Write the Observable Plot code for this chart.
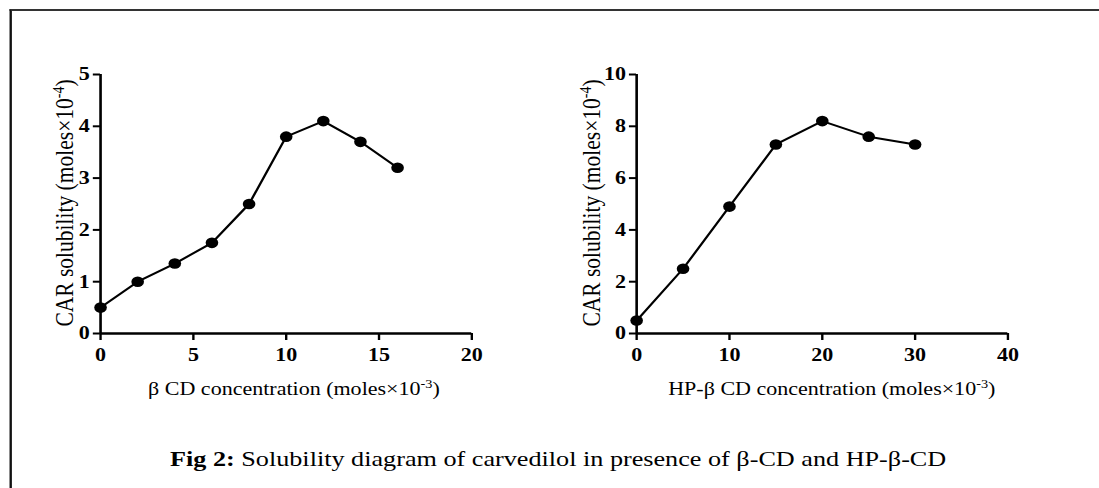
<!DOCTYPE html>
<html>
<head>
<meta charset="utf-8">
<script src="https://cdn.jsdelivr.net/npm/d3@7"></script>
<script src="https://cdn.jsdelivr.net/npm/@observablehq/plot@0.6"></script>
<style>
  html, body { margin: 0; padding: 0; background: #fff; overflow: hidden; }
  #outer { width: 1099px; height: 488px; overflow: hidden; position: relative; }
  /* the reference figure is stretched horizontally by ~1.19 */
  #root { position: absolute; left: 0; top: 0; width: 924px; height: 488px; transform: scaleX(1.19); transform-origin: 0 0; font-family: "Liberation Serif", "Times New Roman", serif; color: #000; }
  #frame { position: absolute; left: 7.6px; top: 9px; width: 1200px; height: 600px; border-left: 2px solid #111; border-top: 2px solid #333; }
  .panel { position: absolute; top: 0; }
  .panel svg text { font-family: "Liberation Serif", "Times New Roman", serif !important; font-size: 18.5px !important; font-weight: bold !important; fill: #000; }
  .lbl { position: absolute; font-size: 18.5px; white-space: nowrap; transform: translate(-50%, -50%); }
  .ylbl { font-size: 21.5px; transform: translate(-50%, -50%) rotate(-90deg); }
  .lbl sup { font-size: 0.65em; vertical-align: 0.55em; line-height: 0; }
  #caption { position: absolute; left: 469px; top: 459px; transform: translate(-50%, -50%); font-size: 22px; white-space: nowrap; }
</style>
</head>
<body>
<div id="outer">
<div id="root">
  <div id="frame"></div>
  <div id="p1" class="panel" style="left:0px"></div>
  <div id="p2" class="panel" style="left:460px"></div>
  <div class="lbl ylbl" style="left:55px; top:203px">CAR solubility (moles×10<sup>-4</sup>)</div>
  <div class="lbl" style="left:247px; top:389px">β CD concentration (moles×10<sup>-3</sup>)</div>
  <div class="lbl ylbl" style="left:498px; top:203px">CAR solubility (moles×10<sup>-4</sup>)</div>
  <div class="lbl" style="left:699px; top:389px">HP-β CD concentration (moles×10<sup>-3</sup>)</div>
  <div id="caption"><b>Fig 2:</b> Solubility diagram of carvedilol in presence of β-CD and HP-β-CD</div>
</div>
</div>
<script>
// Left panel: β-CD
const betaConc = [0, 2, 4, 6, 8, 10, 12, 14, 16];
const betaSol = [0.5, 1.0, 1.35, 1.75, 2.5, 3.8, 4.1, 3.7, 3.2];
const betaXTicks = [0, 5, 10, 15, 20];
const betaYTicks = [0, 1, 2, 3, 4, 5];

// Right panel: HP-β-CD
const hpConc = [0, 5, 10, 15, 20, 25, 30];
const hpSol = [0.5, 2.5, 4.9, 7.3, 8.2, 7.6, 7.3];
const hpXTicks = [0, 10, 20, 30, 40];
const hpYTicks = [0, 2, 4, 6, 8, 10];

function panel(xs, ys, xDomain, yDomain, xTicks, yTicks, marginLeft) {
  const data = xs.map((x, i) => ({x, y: ys[i]}));
  const W = 460, inner = 312;
  const fmt = d3.format("d");
  return Plot.plot({
    width: W,
    height: 370,
    marginLeft: marginLeft,
    marginRight: W - marginLeft - inner,
    marginTop: 74,
    marginBottom: 37,
    style: { background: "transparent", overflow: "visible", fontSize: "18.5px" },
    x: { domain: xDomain, ticks: xTicks, label: null },
    y: { domain: yDomain, ticks: yTicks, label: null },
    marks: [
      Plot.axisX({ ticks: xTicks, tickFormat: fmt, tickSize: 7, tickPadding: 7, strokeWidth: 2, label: null }),
      Plot.axisY({ ticks: yTicks, tickFormat: fmt, tickSize: 6, tickPadding: 3, strokeWidth: 2, label: null }),
      Plot.ruleY([yDomain[0]], { stroke: "#000", strokeWidth: 2.5 }),
      Plot.ruleX([xDomain[0]], { stroke: "#000", strokeWidth: 2.2 }),
      Plot.line(data, { x: "x", y: "y", stroke: "#000", strokeWidth: 2 }),
      Plot.dot(data, { x: "x", y: "y", r: 5.3, fill: "#000", stroke: "none" })
    ]
  });
}

document.getElementById("p1").append(panel(betaConc, betaSol, [0, 20], [0, 5], betaXTicks, betaYTicks, 84));
document.getElementById("p2").append(panel(hpConc, hpSol, [0, 40], [0, 10], hpXTicks, hpYTicks, 74.5));
</script>
</body>
</html>
